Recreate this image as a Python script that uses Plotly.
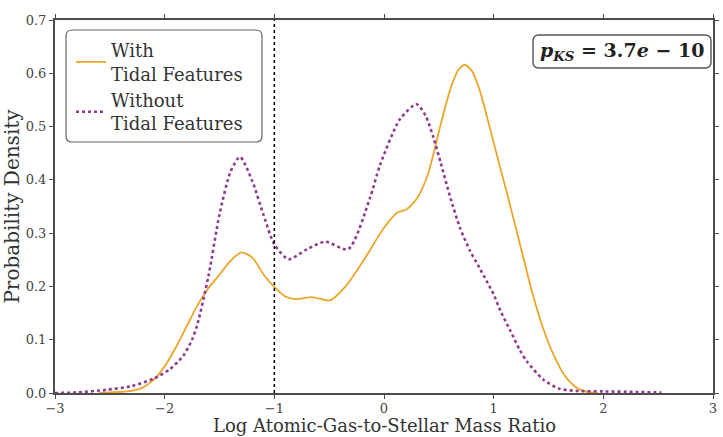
import plotly.graph_objects as go

# ---- data ----
with_x = [-2.6, -2.5, -2.3, -2.2, -2.1, -2.0, -1.9, -1.8, -1.7, -1.6, -1.5, -1.4, -1.3, -1.2,
          -1.1, -1.0, -0.9, -0.8, -0.66, -0.49, -0.35, -0.189, 0.0, 0.116, 0.207, 0.3, 0.4, 0.5,
          0.6, 0.68, 0.738, 0.8, 0.87, 0.95, 1.05, 1.133, 1.24, 1.35, 1.453, 1.55, 1.65, 1.757,
          1.85, 1.95]
with_y = [0.0, 0.001, 0.004, 0.01, 0.025, 0.05, 0.085, 0.125, 0.165, 0.197, 0.222, 0.248, 0.264,
          0.254, 0.223, 0.199, 0.181, 0.176, 0.180, 0.174, 0.200, 0.248, 0.310, 0.338, 0.345,
          0.365, 0.41, 0.49, 0.567, 0.607, 0.616, 0.605, 0.57, 0.51, 0.43, 0.366, 0.279, 0.19,
          0.12, 0.07, 0.032, 0.01, 0.002, 0.0]

without_x = [-3.0, -2.8, -2.53, -2.3, -2.1, -1.95, -1.83, -1.75, -1.7, -1.6, -1.5, -1.4, -1.313,
             -1.2, -1.1, -1.0, -0.87, -0.7, -0.538, -0.326, -0.128, -0.036, 0.146, 0.298, 0.38,
             0.45, 0.52, 0.6, 0.693, 0.784, 0.87, 0.936, 1.0, 1.06, 1.149, 1.24, 1.3, 1.453, 1.6,
             1.75, 2.0, 2.3, 2.53]
without_y = [0.0, 0.001, 0.006, 0.013, 0.027, 0.045, 0.07, 0.1, 0.13, 0.22, 0.335, 0.415, 0.443,
             0.397, 0.335, 0.279, 0.251, 0.270, 0.284, 0.270, 0.366, 0.428, 0.514, 0.542, 0.52,
             0.48, 0.43, 0.37, 0.31, 0.267, 0.235, 0.21, 0.185, 0.155, 0.118, 0.08, 0.06, 0.025,
             0.008, 0.004, 0.003, 0.002, 0.001]

series_names = ["With<br>Tidal Features", "Without<br>Tidal Features"]
threshold_x = -1.0
x_ticks = [-3, -2, -1, 0, 1, 2, 3]
y_ticks = [0.0, 0.1, 0.2, 0.3, 0.4, 0.5, 0.6, 0.7]
x_title = "Log Atomic-Gas-to-Stellar Mass Ratio"
y_title = "Probability Density"
annotation_text = "<b><i>p</i><sub><i>KS</i></sub> = 3.7<i>e</i> − 10</b>"

# ---- layout geometry (pixels) ----
W, H = 723, 437
ML, MR, MT, MB = 55, 10, 20, 44
PW, PH = W - ML - MR, H - MT - MB


def px2paper(px, py):
    return (px - ML) / PW, (H - MB - py) / PH


def rounded_rect(x0, y0, x1, y1, r):
    def p(x, y):
        a, b = px2paper(x, y)
        return f"{a:.5f},{b:.5f}"
    return (f"M {p(x0 + r, y0)} L {p(x1 - r, y0)} Q {p(x1, y0)} {p(x1, y0 + r)} "
            f"L {p(x1, y1 - r)} Q {p(x1, y1)} {p(x1 - r, y1)} "
            f"L {p(x0 + r, y1)} Q {p(x0, y1)} {p(x0, y1 - r)} "
            f"L {p(x0, y0 + r)} Q {p(x0, y0)} {p(x0 + r, y0)} Z")


FONT = "DejaVu Serif"
ORANGE = "#EBA52A"
PURPLE = "#8E3A8E"
AXC = "#4d4d4d"

fig = go.Figure()
fig.add_trace(go.Scatter(x=with_x, y=with_y, mode="lines", name=series_names[0],
                         line=dict(color=ORANGE, width=1.8, shape="spline", smoothing=0.7)))
fig.add_trace(go.Scatter(x=without_x, y=without_y, mode="lines", name=series_names[1],
                         line=dict(color=PURPLE, width=2.6, dash="dot", shape="spline", smoothing=0.7)))

shapes = [
    dict(type="line", xref="x", yref="y", x0=threshold_x, x1=threshold_x, y0=0, y1=0.7,
         line=dict(color="black", width=1.5, dash="dot"), layer="above"),
    dict(type="path", xref="paper", yref="paper", path=rounded_rect(66, 30, 262, 142, 6),
         fillcolor="white", line=dict(color="#666666", width=1.2), layer="above"),
    dict(type="path", xref="paper", yref="paper", path=rounded_rect(533, 35, 711, 68, 6),
         fillcolor="white", line=dict(color="#555555", width=1.4), layer="above"),
]

ax, ay = px2paper(622, 51)
tx, ty = px2paper(384, 437)
fig.update_layout(
    width=W, height=H,
    margin=dict(l=ML, r=MR, t=MT, b=MB, autoexpand=False),
    paper_bgcolor="white", plot_bgcolor="white",
    font=dict(family=FONT, color="#333333"),
    showlegend=True,
    legend=dict(x=px2paper(71, 0)[0], y=px2paper(0, 32)[1], xanchor="left", yanchor="top",
                bgcolor="rgba(0,0,0,0)", borderwidth=0, itemwidth=30,
                font=dict(family=FONT, size=18, color="#333333"), tracegroupgap=2),
    shapes=shapes,
    annotations=[
        dict(x=ax, y=ay, xref="paper", yref="paper", text=annotation_text,
             showarrow=False, font=dict(family=FONT, size=19, color="#222222"),
             xanchor="center", yanchor="middle"),
        dict(x=tx, y=ty, xref="paper", yref="paper", text=x_title, showarrow=False,
             font=dict(family=FONT, size=18, color="#333333"), borderpad=0,
             xanchor="center", yanchor="bottom"),
    ],
    xaxis=dict(range=[-3, 3], tickvals=x_ticks, showgrid=False, zeroline=False,
               showline=True, linecolor=AXC, linewidth=2, mirror="ticks",
               ticks="outside", ticklen=4, tickwidth=1, tickcolor=AXC, ticklabelstandoff=-2,
               tickfont=dict(family=FONT, size=13, color="#444444")),
    yaxis=dict(range=[0, 0.7], tickvals=y_ticks, tickformat=".1f", showgrid=False, zeroline=False,
               showline=True, linecolor=AXC, linewidth=2, mirror="ticks",
               ticks="outside", ticklen=4, tickwidth=1, tickcolor=AXC,
               tickfont=dict(family=FONT, size=13, color="#444444"),
               title=dict(text=y_title, standoff=4,
                          font=dict(family=FONT, size=20, color="#333333"))),
)

fig.write_html("out.html")
